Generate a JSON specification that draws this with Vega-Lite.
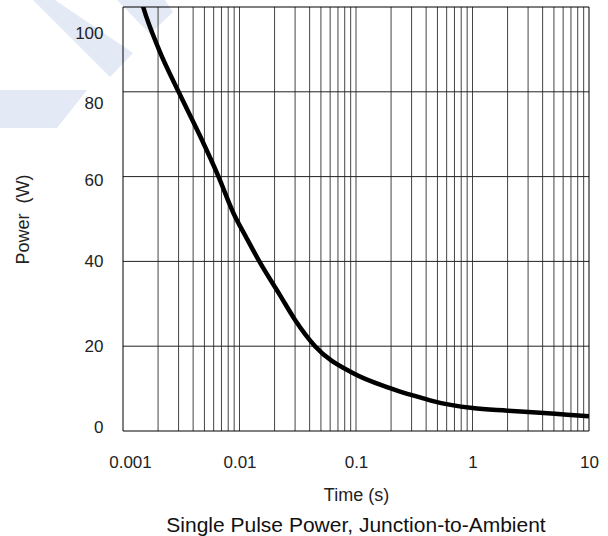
{
  "$schema": "https://vega.github.io/schema/vega-lite/v6.json",
  "width": 466,
  "height": 424,
  "autosize": {"type": "none"},
  "padding": {"left": 123, "top": 7, "right": 19, "bottom": 105},
  "background": "white",
  "config": {"view": {"stroke": null}, "font": "Liberation Sans"},
  "title": {"text": "Single Pulse Power, Junction-to-Ambient", "orient": "bottom", "fontSize": 21, "fontWeight": "normal", "color": "#111", "offset": 11, "anchor": "middle", "font": "Liberation Sans"},
  "datasets": {
    "wm": [
      {"shape": "A", "i": 1, "t": 0.0001689, "p": 101.65},
      {"shape": "A", "i": 2, "t": 0.0002608, "p": 101.65},
      {"shape": "A", "i": 3, "t": 0.001218, "p": 89.15},
      {"shape": "A", "i": 4, "t": 0.0007735, "p": 83.49},
      {"shape": "B", "i": 1, "t": 0.000888, "p": 101.65},
      {"shape": "B", "i": 2, "t": 0.002294, "p": 101.65},
      {"shape": "B", "i": 3, "t": 0.002687, "p": 98.82},
      {"shape": "B", "i": 4, "t": 0.001705, "p": 93.63},
      {"shape": "C", "i": 1, "t": 0.0000879, "p": 80.42},
      {"shape": "C", "i": 2, "t": 0.000491, "p": 80.42},
      {"shape": "C", "i": 3, "t": 0.0002714, "p": 71.46},
      {"shape": "C", "i": 4, "t": 0.0000879, "p": 71.46}
    ],
    "vgrid": [
      {"t": 0.002}, {"t": 0.003}, {"t": 0.004}, {"t": 0.005}, {"t": 0.006}, {"t": 0.007}, {"t": 0.008}, {"t": 0.009}, {"t": 0.01},
      {"t": 0.02}, {"t": 0.03}, {"t": 0.04}, {"t": 0.05}, {"t": 0.06}, {"t": 0.07}, {"t": 0.08}, {"t": 0.09}, {"t": 0.1},
      {"t": 0.2}, {"t": 0.3}, {"t": 0.4}, {"t": 0.5}, {"t": 0.6}, {"t": 0.7}, {"t": 0.8}, {"t": 0.9}, {"t": 1},
      {"t": 2}, {"t": 3}, {"t": 4}, {"t": 5}, {"t": 6}, {"t": 7}, {"t": 8}, {"t": 9}
    ],
    "hgrid": [{"p": 20}, {"p": 40}, {"p": 60}, {"p": 80}],
    "frame": [{"t0": 0.001, "t1": 10, "p0": 0, "p1": 100}],
    "curve": [
      {"t": 0.00142, "p": 102},
      {"t": 0.00149, "p": 100},
      {"t": 0.00204, "p": 89.9},
      {"t": 0.003, "p": 80},
      {"t": 0.0046, "p": 69.5},
      {"t": 0.0066, "p": 60},
      {"t": 0.0089, "p": 51.3},
      {"t": 0.0115, "p": 45.5},
      {"t": 0.0148, "p": 40},
      {"t": 0.0223, "p": 32},
      {"t": 0.03, "p": 26.2},
      {"t": 0.0445, "p": 20},
      {"t": 0.0948, "p": 13.6},
      {"t": 0.196, "p": 10.1},
      {"t": 0.239, "p": 9.3},
      {"t": 0.378, "p": 7.7},
      {"t": 0.458, "p": 7.05},
      {"t": 1.0, "p": 5.4},
      {"t": 2.0, "p": 4.8},
      {"t": 3.8, "p": 4.3},
      {"t": 6.5, "p": 3.85},
      {"t": 10, "p": 3.5}
    ]
  },
  "layer": [
    {
      "data": {"name": "wm"},
      "mark": {"type": "line", "filled": true, "color": "#e4e9f6", "strokeWidth": 0, "clip": false},
      "encoding": {
        "x": {"field": "t", "type": "quantitative", "scale": {"type": "log", "domain": [0.001, 10]}},
        "y": {"field": "p", "type": "quantitative", "scale": {"domain": [0, 100]}},
        "detail": {"field": "shape"},
        "order": {"field": "i", "type": "quantitative"}
      }
    },
    {
      "data": {"name": "vgrid"},
      "mark": {"type": "rule", "color": "#444", "strokeWidth": 1},
      "encoding": {
        "x": {"field": "t", "type": "quantitative"}
      }
    },
    {
      "data": {"name": "hgrid"},
      "mark": {"type": "rule", "color": "#222", "strokeWidth": 1},
      "encoding": {
        "y": {"field": "p", "type": "quantitative"}
      }
    },
    {
      "data": {"name": "frame"},
      "mark": {"type": "rect", "fill": null, "fillOpacity": 0, "stroke": "#000", "strokeWidth": 1},
      "encoding": {
        "x": {"field": "t0", "type": "quantitative"},
        "x2": {"field": "t1"},
        "y": {"field": "p0", "type": "quantitative"},
        "y2": {"field": "p1"}
      }
    },
    {
      "data": {"name": "curve"},
      "mark": {"type": "line", "color": "#000", "strokeWidth": 4.5, "interpolate": "monotone", "clip": true},
      "encoding": {
        "x": {
          "field": "t", "type": "quantitative",
          "axis": {
            "values": [0.001, 0.01, 0.1, 1, 10],
            "format": "~g",
            "grid": false, "domain": false, "ticks": false, "tickSize": 0,
            "labelFlush": false,
            "labelPadding": 23,
            "labelFontSize": 17,
            "labelColor": "#222",
            "labelFont": "Liberation Sans",
            "labelOffset": {"condition": {"test": "datum.value < 0.002", "value": 7}, "value": 0},
            "title": "Time (s)",
            "titleFontSize": 18,
            "titleFontWeight": "normal",
            "titleColor": "#222",
            "titleFont": "Liberation Sans",
            "titlePadding": 16,
            "zindex": 1
          }
        },
        "y": {
          "field": "p", "type": "quantitative",
          "axis": {
            "values": [0, 20, 40, 60, 80, 100],
            "grid": false, "domain": false, "ticks": false, "tickSize": 0,
            "labelPadding": 20,
            "labelFontSize": 17,
            "labelColor": "#222",
            "labelFont": "Liberation Sans",
            "labelFlush": false,
            "labelOffset": {"condition": [
              {"test": "datum.value == 100", "value": 26},
              {"test": "datum.value == 80", "value": 12},
              {"test": "datum.value == 60", "value": 4},
              {"test": "datum.value == 0", "value": -4}
            ], "value": 0},
            "title": "Power\u00a0\u00a0(W)",
            "titleFontSize": 18,
            "titleFontWeight": "normal",
            "titleColor": "#222",
            "titleFont": "Liberation Sans",
            "titlePadding": 42,
            "zindex": 1
          }
        }
      }
    }
  ]
}
